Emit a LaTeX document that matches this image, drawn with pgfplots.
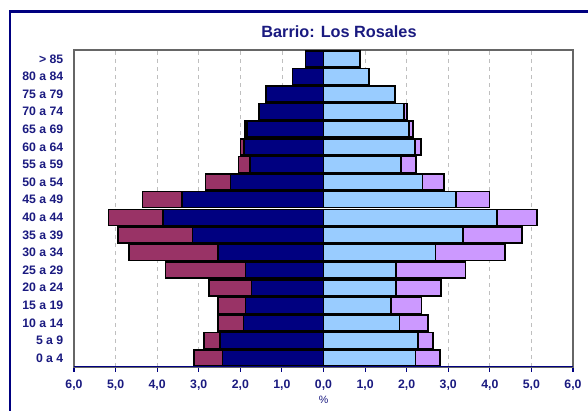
\documentclass[border=0pt]{standalone}
\usepackage{pgfplots}
\pgfplotsset{compat=1.18}
\usepackage{fontspec}
\setmainfont{Liberation Sans}
\definecolor{navyc}{HTML}{000080}
\definecolor{maroonc}{HTML}{993366}
\definecolor{lblue}{HTML}{99CCFF}
\definecolor{lav}{HTML}{CC99FF}
\definecolor{txtc}{HTML}{1A1A80}
\begin{document}
\begin{tikzpicture}
\useasboundingbox (0,0) rectangle (441pt,307.5pt);
\draw[navyc, line width=2.2pt] (7.5pt,-2pt) -- (7.5pt,299pt) -- (443pt,299pt);
\node[font=\fontsize{12.2}{14}\selectfont\bfseries, text=txtc] at (254.25pt,283.5pt) {Barrio: Los Rosales};
\begin{axis}[
  at={(55.5pt,32.25pt)}, anchor=south west,
  scale only axis, width=374.25pt, height=237.75pt,
  xmin=-6, xmax=6, ymin=-0.5, ymax=17.5,
  xbar, bar width=12pt, bar shift=0pt,
  xtick={-6,-5,-4,-3,-2,-1,0,1,2,3,4,5,6},
  xticklabels={{6,0},{5,0},{4,0},{3,0},{2,0},{1,0},{0,0},{1,0},{2,0},{3,0},{4,0},{5,0},{6,0}},
  ytick={0,...,17},
  yticklabels={0 a 4,5 a 9,10 a 14,15 a 19,20 a 24,25 a 29,30 a 34,35 a 39,40 a 44,45 a 49,50 a 54,55 a 59,60 a 64,65 a 69,70 a 74,75 a 79,80 a 84,> 85},
  ticklabel style={font=\fontsize{9.2}{11}\selectfont\bfseries, text=txtc},
  yticklabel style={xshift=-1pt},
  xticklabel style={yshift=-3pt},
  xtick pos=bottom, ytick pos=left,
  ytick style={draw=none},
  xtick style={navyc, line width=0.8pt},
  tick align=outside, major tick length=3.5pt,
  xmajorgrids, grid style={dashed, gray!50, line width=0.6pt},
  axis line style={gray!80!black, line width=0.8pt},
  xlabel={\%}, xlabel style={font=\fontsize{8}{9}\selectfont, text=txtc, yshift=3pt},
  every axis plot/.append style={draw=black, line width=1.2pt},
]
\addplot[fill=maroonc] coordinates {
(-3.12,0) (-2.88,1) (-2.53,2) (-2.53,3) (-2.76,4) (-3.80,5) (-4.68,6) (-4.94,7) (-5.17,8)
(-4.35,9) (-2.84,10) (-2.04,11) (-2.00,12) (-1.89,13) (-1.55,14) (-1.38,15) (-0.75,16) (-0.43,17)};
\addplot[fill=navyc] coordinates {
(-2.43,0) (-2.49,1) (-1.92,2) (-1.88,3) (-1.73,4) (-1.88,5) (-2.53,6) (-3.15,7) (-3.86,8)
(-3.41,9) (-2.24,10) (-1.77,11) (-1.91,12) (-1.84,13) (-1.55,14) (-1.37,15) (-0.75,16) (-0.43,17)};
\addplot[fill=lav] coordinates {
(2.80,0) (2.64,1) (2.52,2) (2.36,3) (2.83,4) (3.41,5) (4.37,6) (4.77,7) (5.13,8)
(3.99,9) (2.90,10) (2.22,11) (2.35,12) (2.15,13) (2.01,14) (1.72,15) (1.10,16) (0.88,17)};
\addplot[fill=lblue] coordinates {
(2.21,0) (2.27,1) (1.83,2) (1.63,3) (1.75,4) (1.74,5) (2.69,6) (3.36,7) (4.17,8)
(3.18,9) (2.38,10) (1.87,11) (2.20,12) (2.05,13) (1.94,14) (1.72,15) (1.10,16) (0.88,17)};
\draw[navyc, line width=1.5pt] (axis cs:-6,-0.5) -- (axis cs:6,-0.5);
\end{axis}
\end{tikzpicture}
\end{document}
